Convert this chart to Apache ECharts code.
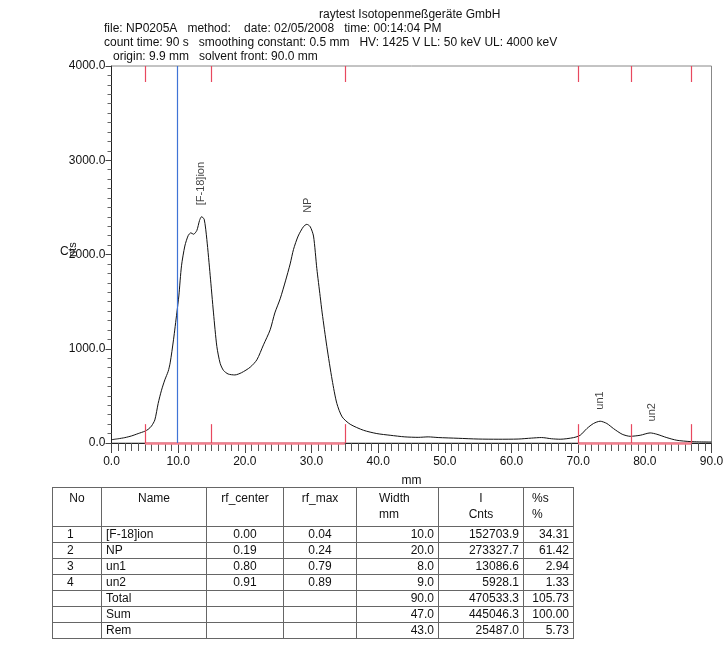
<!DOCTYPE html>
<html lang="de">
<head>
<meta charset="UTF-8">
<title>NP0205A</title>
<style>
  body { margin: 0; background: #fff; }
  #wrap { position: relative; width: 727px; height: 671px; overflow: hidden; }
  #chart { position: absolute; left: 0; top: 0; width: 727px; height: 671px; }
  #tbl { position: absolute; left: 52px; top: 487px; border-collapse: collapse; table-layout: fixed;
         font: 12px "Liberation Sans", Arial, sans-serif; color: #111; }
  #tbl td { border: 1px solid #666; padding: 0 4px; height: 15px; line-height: 15px; white-space: nowrap; }
  #tbl tr.head td { vertical-align: top; height: 36px; line-height: 16px; padding-top: 2px; }
</style>
</head>
<body>
<div id="wrap">
  <div id="chart"></div>
  <table id="tbl"></table>
</div>
<script src="https://cdn.jsdelivr.net/npm/echarts@6/dist/echarts.min.js"></script>
<script>
// scan data (mm vs counts)
var dist = [0, 1, 2, 3, 4, 5, 5.5, 6, 6.5, 7, 7.5, 8, 8.5, 8.8, 9.3, 9.8, 10.1, 10.5, 11, 11.5,
            11.9, 12.3, 12.8, 13.2, 13.5, 13.9, 14.3, 14.8, 15.3, 15.8, 16.3, 16.8, 17.5, 18.5, 19.5, 20.8,
            21.8, 22.8, 23.8, 24.5, 25.3, 26.1, 26.8, 27.3, 28.0, 28.8, 29.3, 29.8, 30.3, 30.8,
            31.3, 31.6, 32.3, 33.1, 33.8, 34.6, 35.8, 37.8, 39.8, 41.8, 44, 46, 47.5, 49, 52, 55,
            58, 61, 63, 64.5, 66, 67.3, 69.3, 70.3, 71.3, 72.3, 73.3, 74.3, 75.3, 76.6, 77.8, 79.3,
            80.8, 81.8, 83.3, 84.8, 86.8, 88, 90];
var cnts = [35, 45, 57, 75, 100, 125, 145, 180, 245, 420, 560, 670, 760, 850, 1095, 1380, 1560, 1880, 2090, 2200,
            2230, 2215, 2255, 2360, 2400, 2375, 2160, 1780, 1380, 1025, 845, 770, 732, 722, 746, 804,
            882, 1042, 1201, 1380, 1530, 1720, 1900, 2054, 2196, 2296, 2320, 2296, 2196, 1850,
            1556, 1380, 1024, 668, 420, 277, 199, 135, 100, 82, 65, 60, 65, 58, 50, 42,
            40, 42, 52, 58, 45, 40, 57, 82, 153, 207, 231, 207, 153, 93, 71, 82,
            107, 93, 57, 29, 15, 12, 10];

var peakNames = ['[F-18]ion', 'NP', 'un1', 'un2'];
var peakPos = [13.4, 29.4, 73.3, 81.0];
var peakTop = [2400, 2320, 231, 107];
var regionEdges = [5, 15, 35, 70, 78, 87];
var baseSegs = [[5, 35], [70, 87]];
var originMm = 9.9;

var headerLines = [
  'file: NP0205A   method:    date: 02/05/2008   time: 00:14:04 PM',
  'count time: 90 s   smoothing constant: 0.5 mm   HV: 1425 V LL: 50 keV UL: 4000 keV',
  'origin: 9.9 mm   solvent front: 90.0 mm'
];

// results table
var colHeads = [['No', ''], ['Name', ''], ['rf_center', ''], ['rf_max', ''], ['Width', 'mm'], ['I', 'Cnts'], ['%s', '%']];
var colWidths = [49, 105, 77, 73, 82, 85, 50];
var tblNo = ['1', '2', '3', '4', '', '', ''];
var tblName = ['[F-18]ion', 'NP', 'un1', 'un2', 'Total', 'Sum', 'Rem'];
var rfCenter = ['0.00', '0.19', '0.80', '0.91', '', '', ''];
var rfMax = ['0.04', '0.24', '0.79', '0.89', '', '', ''];
var widthMm = ['10.0', '20.0', '8.0', '9.0', '90.0', '47.0', '43.0'];
var intCnts = ['152703.9', '273327.7', '13086.6', '5928.1', '470533.3', '445046.3', '25487.0'];
var pctS = ['34.31', '61.42', '2.94', '1.33', '105.73', '100.00', '5.73'];

var font = '"Liberation Sans", Arial, sans-serif';
var red = '#e8485f';
var blue = '#3f73d6';

// peak region edges (short ticks at bottom and top of plot)
var edgeData = [];
regionEdges.forEach(function (e) {
  edgeData.push([{ coord: [e, 0] }, { coord: [e, 200] }]);
  edgeData.push([{ coord: [e, 4000] }, { coord: [e, 3830] }]);
});
var segData = baseSegs.map(function (s) { return [{ coord: [s[0], 0] }, { coord: [s[1], 0] }]; });

var graphics = [{
  type: 'text', left: 319, top: 9,
  style: { text: 'raytest Isotopenmeßgeräte GmbH', font: '12px ' + font, fill: '#111' }
}];
var hx = [104, 104, 113];
var hy = [23, 37, 51];
headerLines.forEach(function (t, i) {
  graphics.push({ type: 'text', left: hx[i], top: hy[i], style: { text: t, font: '12px ' + font, fill: '#111' } });
});
graphics.push({ type: 'text', left: 60, top: 246, style: { text: 'C', font: '12px ' + font, fill: '#111' } });
graphics.push({ type: 'text', x: 67, y: 257, rotation: Math.PI / 2, style: { text: 'nts', font: '11px ' + font, fill: '#111' } });

function markSeries(color, width, data) {
  return {
    type: 'line', data: [], symbol: 'none', color: color,
    lineStyle: { color: color, width: 0 },
    markLine: {
      silent: true, symbol: ['none', 'none'], label: { show: false },
      emphasis: { disabled: true },
      lineStyle: { color: color, width: width, type: 'solid' },
      data: data
    },
    z: 2
  };
}

var chart = echarts.init(document.getElementById('chart'));
chart.setOption({
  animation: false,
  backgroundColor: '#fff',
  grid: { left: 111.5, right: 15.5, top: 66, bottom: 228, show: true, borderColor: '#888', borderWidth: 1 },
  graphic: graphics,
  xAxis: {
    type: 'value', min: 0, max: 90, interval: 10,
    name: 'mm', nameLocation: 'middle', nameGap: 32,
    nameTextStyle: { fontFamily: font, fontSize: 12, color: '#111' },
    axisLine: { onZero: false, lineStyle: { color: '#222', width: 1 } },
    axisTick: { length: 10, lineStyle: { color: '#444' } },
    minorTick: { show: true, splitNumber: 10, length: 8, lineStyle: { color: '#555' } },
    axisLabel: { margin: 13, fontFamily: font, fontSize: 12, color: '#111',
                 formatter: function (v) { return v.toFixed(1); } },
    splitLine: { show: false }
  },
  yAxis: {
    type: 'value', min: 0, max: 4000, interval: 1000,
    axisLine: { show: true, lineStyle: { color: '#222', width: 1 } },
    axisTick: { show: true, length: 6, lineStyle: { color: '#444' } },
    minorTick: { show: true, splitNumber: 10, length: 4, lineStyle: { color: '#666' } },
    axisLabel: { margin: 6, fontFamily: font, fontSize: 12, color: '#111',
                 formatter: function (v) { return v.toFixed(1); } },
    splitLine: { show: false }
  },
  series: [
    markSeries('#f27f8e', 2.5, segData),
    markSeries(red, 1.2, edgeData),
    markSeries(blue, 1.2, [{ xAxis: originMm }]),
    {
      type: 'line',
      data: dist.map(function (d, i) { return [d, cnts[i]]; }),
      symbol: 'none',
      smooth: 0.25,
      color: '#111',
      lineStyle: { color: '#111', width: 1 },
      z: 3
    }, {
      type: 'scatter',
      data: peakPos.map(function (x, i) { return { name: peakNames[i], value: [x, peakTop[i]] }; }),
      symbolSize: 1,
      itemStyle: { color: 'rgba(0,0,0,0)' },
      label: {
        show: true, formatter: '{b}', position: 'top', distance: 11, rotate: 90,
        align: 'left', verticalAlign: 'middle',
        fontFamily: font, fontSize: 11, color: '#111'
      },
      z: 4
    }
  ]
});

// build the table below the plot
var tbl = document.getElementById('tbl');
var cg = '<colgroup>' + colWidths.map(function (w) { return '<col style="width:' + w + 'px">'; }).join('') + '</colgroup>';
var aligns = ['center', 'center', 'center', 'center', 'left', 'center', 'left'];
var html = cg + '<tr class="head">' + colHeads.map(function (h, i) {
  var pad = i === 4 ? 'padding-left:22px;' : (i === 6 ? 'padding-left:8px;' : '');
  return '<td style="text-align:' + aligns[i] + ';' + pad + '">' + h[0] + '<br>' + h[1] + '</td>';
}).join('') + '</tr>';
for (var r = 0; r < tblName.length; r++) {
  html += '<tr>' +
    '<td style="text-align:left;padding-left:14px">' + tblNo[r] + '</td>' +
    '<td style="text-align:left">' + tblName[r] + '</td>' +
    '<td style="text-align:center">' + rfCenter[r] + '</td>' +
    '<td style="text-align:center">' + rfMax[r] + '</td>' +
    '<td style="text-align:right">' + widthMm[r] + '</td>' +
    '<td style="text-align:right">' + intCnts[r] + '</td>' +
    '<td style="text-align:right">' + pctS[r] + '</td></tr>';
}
tbl.innerHTML = html;
</script>
</body>
</html>
